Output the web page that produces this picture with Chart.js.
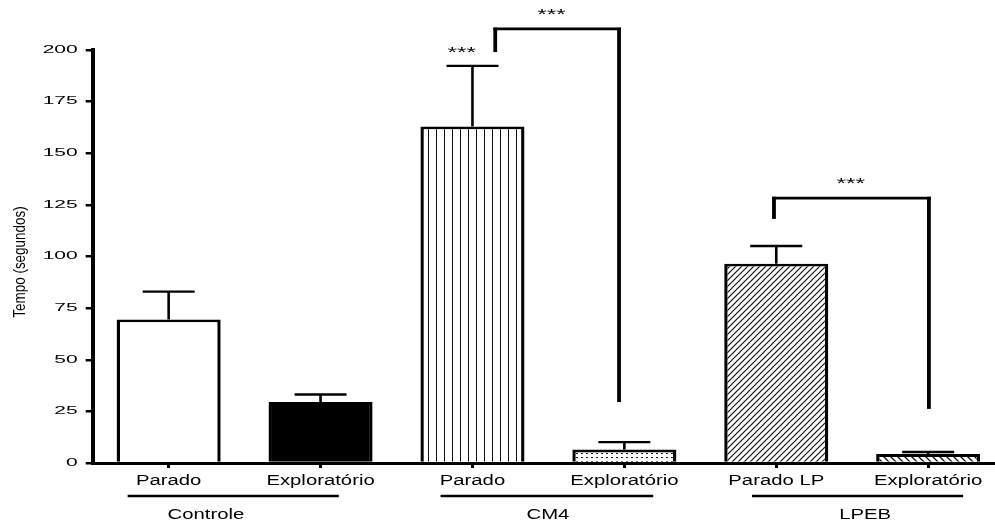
<!DOCTYPE html>
<html>
<head>
<meta charset="utf-8">
<script src="https://cdn.jsdelivr.net/npm/chart.js@4/dist/chart.umd.min.js"></script>
<style>
  html, body { margin: 0; padding: 0; background: #fff; }
  #wrap { width: 995px; height: 525px; position: relative; }
</style>
</head>
<body>
<div id="wrap"><canvas id="c"></canvas></div>
<script>
// Tempo (s) por condição, média e erro padrão
const categories = ['Parado', 'Exploratório', 'Parado', 'Exploratório', 'Parado LP', 'Exploratório'];
const means = [69.5, 29.5, 163, 6.5, 96.5, 4.3];
const sem = [13.5, 3.7, 29.3, 3.6, 8.6, 1.0];
const yTicks = [0, 25, 50, 75, 100, 125, 150, 175, 200];

// Grupos sob o eixo x (posições em unidades de categoria)
const groups = ['Controle', 'CM4', 'LPEB'];
const groupSpans = [[-0.27, 1.12], [1.79, 3.19], [3.84, 5.23]];
const groupLabelAt = [0.245, 2.497, 4.585];

// Colchetes de significância: [x esq, x dir, y topo, y pé esq, y pé dir]
const brackets = [
  [2.15, 2.965, 210.2, 199, 29.5],
  [3.985, 5.005, 128.3, 118.2, 26.2]
];
const stars = [
  { x: 1.93, y: 199.8, text: '***' },
  { x: 2.52, y: 218.4, text: '***' },
  { x: 4.49, y: 136.6, text: '***' }
];

const FONT = "'Liberation Sans', Arial, sans-serif";
const canvas = document.getElementById('c');
const c2d = canvas.getContext('2d');

function makePattern(w, h, draw) {
  const t = document.createElement('canvas');
  t.width = w; t.height = h;
  const g = t.getContext('2d');
  g.fillStyle = '#fff';
  g.fillRect(0, 0, w, h);
  g.fillStyle = '#111';
  g.strokeStyle = '#111';
  draw(g, w, h);
  return c2d.createPattern(t, 'repeat');
}

const vLines = makePattern(8, 8, (g) => { g.fillRect(4, 0, 1, 8); });
const dots = makePattern(5, 4, (g) => { g.fillRect(1, 1, 2, 1); });
const fwdHatch = makePattern(6, 6, (g, w, h) => {
  g.lineWidth = 1.2;
  g.beginPath();
  g.moveTo(-1, h + 1); g.lineTo(w + 1, -1);
  g.moveTo(-1, 1); g.lineTo(1, -1);
  g.moveTo(w - 1, h + 1); g.lineTo(w + 1, h - 1);
  g.stroke();
});
const backHatch = makePattern(7, 7, (g, w, h) => {
  g.lineWidth = 1.3;
  g.beginPath();
  g.moveTo(-1, -1); g.lineTo(w + 1, h + 1);
  g.moveTo(w - 1, -1); g.lineTo(w + 1, 1);
  g.moveTo(-1, h - 1); g.lineTo(1, h + 1);
  g.stroke();
});
const fills = ['#ffffff', '#000000', vLines, dots, fwdHatch, backHatch];

function stretchedText(ctx, text, x, y, size, sx, align, baseline) {
  ctx.save();
  ctx.translate(x, y);
  ctx.scale(sx, 1);
  ctx.font = size + 'px ' + FONT;
  ctx.textAlign = align;
  ctx.textBaseline = baseline;
  ctx.fillText(text, 0, 0);
  ctx.restore();
}

function seg(ctx, x1, y1, x2, y2, w) {
  ctx.lineWidth = w;
  ctx.beginPath();
  ctx.moveTo(x1, y1);
  ctx.lineTo(x2, y2);
  ctx.stroke();
}

const decorations = {
  id: 'decorations',
  afterDraw(chart) {
    const { ctx, chartArea, scales: { x, y } } = chart;
    const meta = chart.getDatasetMeta(0);
    ctx.save();
    ctx.strokeStyle = '#000';
    ctx.fillStyle = '#000';
    ctx.lineCap = 'butt';

    // barras de erro (só o lado superior)
    meta.data.forEach((bar, i) => {
      const cx = bar.x;
      const top = y.getPixelForValue(means[i]);
      const tip = y.getPixelForValue(means[i] + sem[i]);
      const half = bar.width / 4;
      seg(ctx, cx, top, cx, tip, 2.6);
      seg(ctx, cx - half, tip, cx + half, tip, 2.4);
    });

    // colchetes de significância
    brackets.forEach(([xl, xr, yt, yl, yr]) => {
      const pl = x.getPixelForValue(xl), pr = x.getPixelForValue(xr);
      const pt = y.getPixelForValue(yt);
      seg(ctx, pl, pt - 1.3, pl, y.getPixelForValue(yl), 3.8);
      seg(ctx, pl - 1.9, pt, pr + 1.9, pt, 2.7);
      seg(ctx, pr, pt - 1.3, pr, y.getPixelForValue(yr), 3.8);
    });
    stars.forEach(s => {
      stretchedText(ctx, s.text, x.getPixelForValue(s.x), y.getPixelForValue(s.y) + 7, 14, 1.75, 'center', 'alphabetic');
    });

    // rótulos do eixo y
    yTicks.forEach(v => {
      stretchedText(ctx, String(v), chartArea.left - 15, y.getPixelForValue(v), 10, 2.1, 'right', 'middle');
    });

    // rótulos do eixo x
    categories.forEach((lab, i) => {
      stretchedText(ctx, lab, x.getPixelForValue(i), chartArea.bottom + 22, 14, 1.45, 'center', 'alphabetic');
    });

    // linhas e nomes dos grupos
    groups.forEach((g, i) => {
      const [a, b] = groupSpans[i];
      seg(ctx, x.getPixelForValue(a), chartArea.bottom + 33, x.getPixelForValue(b), chartArea.bottom + 33, 2.6);
      stretchedText(ctx, g, x.getPixelForValue(groupLabelAt[i]), chartArea.bottom + 56, 14, 1.45, 'center', 'alphabetic');
    });

    // título do eixo y
    ctx.save();
    ctx.translate(20.5, 262);
    ctx.rotate(-Math.PI / 2);
    ctx.scale(0.84, 1.05);
    ctx.font = '16px ' + FONT;
    ctx.textAlign = 'center';
    ctx.textBaseline = 'middle';
    ctx.fillText('Tempo (segundos)', 0, 0);
    ctx.restore();

    ctx.restore();
  }
};

new Chart(canvas, {
  type: 'bar',
  data: {
    datasets: [{
      data: means.map((m, i) => ({ x: i, y: m })),
      backgroundColor: fills,
      borderColor: '#000',
      borderWidth: { top: 2.8, left: 3.4, right: 3.4, bottom: 0 },
      borderSkipped: 'start',
      barPercentage: 0.685,
      categoryPercentage: 1
    }]
  },
  options: {
    responsive: true,
    maintainAspectRatio: false,
    animation: false,
    layout: { padding: { top: 50, left: 0, right: 0, bottom: 0 } },
    plugins: { legend: { display: false }, tooltip: { enabled: false } },
    scales: {
      x: {
        type: 'linear',
        offset: false,
        min: -0.5,
        max: 5.44,
        afterBuildTicks: (scale) => { scale.ticks = categories.map((_, i) => ({ value: i })); },
        afterFit: (scale) => { scale.height = 62; },
        ticks: { display: false },
        grid: { offset: false, drawOnChartArea: false, drawTicks: true, tickLength: 5, lineWidth: 3, color: '#000' },
        border: { display: true, width: 3, color: '#000' }
      },
      y: {
        min: 0,
        max: 200,
        afterBuildTicks: (scale) => { scale.ticks = yTicks.map(v => ({ value: v })); },
        afterFit: (scale) => { scale.width = 92.7; },
        ticks: { display: false },
        grid: { drawOnChartArea: false, drawTicks: true, tickLength: 7, lineWidth: 2.5, color: '#000' },
        border: { display: true, width: 4, color: '#000' }
      }
    }
  },
  plugins: [decorations]
});
</script>
</body>
</html>
